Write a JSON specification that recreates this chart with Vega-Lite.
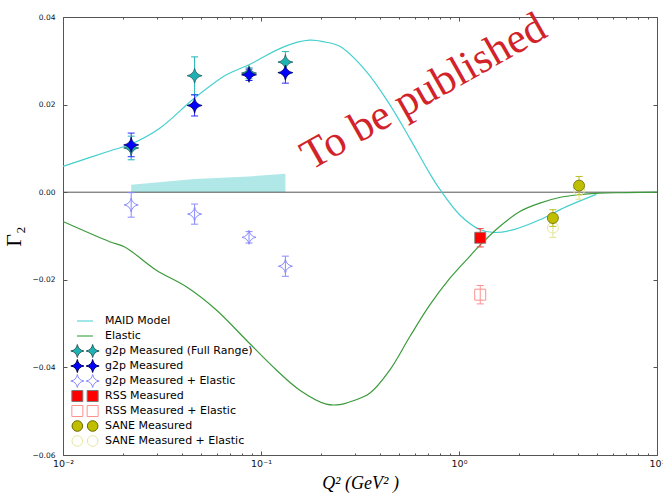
{
  "$schema": "https://vega.github.io/schema/vega-lite/v6.json",
  "autosize": {"type": "none"},
  "padding": {"left": 63, "top": 17, "right": 6, "bottom": 42},
  "width": 594,
  "height": 438,
  "background": "white",
  "config": {
    "view": {"stroke": null},
    "axis": {
      "grid": false,
      "domainColor": "#555555",
      "tickColor": "#555555",
      "labelColor": "#111111",
      "labelFont": "DejaVu Sans",
      "labelFontSize": 7.5,
      "titleColor": "black"
    },
    "legend": {
      "orient": "none", "legendX": 7, "legendY": 296.5, "title": null,
      "labelFont": "DejaVu Sans", "labelFontSize": 11, "labelColor": "black", "labelLimit": 400,
      "symbolSize": 841, "symbolStrokeWidth": 1, "symbolOpacity": 1,
      "rowPadding": 0, "clipHeight": 15, "labelOffset": 5, "padding": 0
    }
  },
  "datasets": {
    "maid": [
      {"q2": 0.01, "g": 0.0059},
      {"q2": 0.0172, "g": 0.0094},
      {"q2": 0.0221, "g": 0.0110},
      {"q2": 0.0308, "g": 0.0146},
      {"q2": 0.0462, "g": 0.0215},
      {"q2": 0.0669, "g": 0.0268},
      {"q2": 0.0869, "g": 0.0291},
      {"q2": 0.132, "g": 0.0333},
      {"q2": 0.176, "g": 0.0347},
      {"q2": 0.21, "g": 0.0343},
      {"q2": 0.25, "g": 0.0333},
      {"q2": 0.34, "g": 0.0276},
      {"q2": 0.447, "g": 0.0200},
      {"q2": 0.564, "g": 0.0123},
      {"q2": 0.711, "g": 0.0043},
      {"q2": 0.799, "g": 0.0007},
      {"q2": 1.01, "g": -0.0052},
      {"q2": 1.27, "g": -0.0085},
      {"q2": 1.51, "g": -0.0092},
      {"q2": 1.87, "g": -0.0086},
      {"q2": 2.56, "g": -0.0063},
      {"q2": 3.49, "g": -0.0033},
      {"q2": 4.94, "g": -0.0005}
    ],
    "elastic": [
      {"q2": 0.01, "g": -0.0067},
      {"q2": 0.0172, "g": -0.0113},
      {"q2": 0.0205, "g": -0.0125},
      {"q2": 0.0296, "g": -0.0178},
      {"q2": 0.042, "g": -0.0216},
      {"q2": 0.0595, "g": -0.0269},
      {"q2": 0.0844, "g": -0.0338},
      {"q2": 0.1196, "g": -0.0406},
      {"q2": 0.157, "g": -0.0452},
      {"q2": 0.214, "g": -0.0484},
      {"q2": 0.25, "g": -0.0485},
      {"q2": 0.28, "g": -0.0479},
      {"q2": 0.354, "g": -0.0459},
      {"q2": 0.447, "g": -0.0406},
      {"q2": 0.564, "g": -0.0330},
      {"q2": 0.711, "g": -0.0258},
      {"q2": 0.898, "g": -0.0197},
      {"q2": 1.13, "g": -0.0147},
      {"q2": 1.27, "g": -0.0122},
      {"q2": 1.6, "g": -0.0079},
      {"q2": 2.03, "g": -0.0044},
      {"q2": 2.56, "g": -0.0025},
      {"q2": 3.3, "g": -0.0011},
      {"q2": 4.2, "g": -0.0005},
      {"q2": 5.1, "g": -0.0002},
      {"q2": 7.0, "g": -0.0001},
      {"q2": 10, "g": 0.0}
    ],
    "band": [
      {"q2": 0.0221, "top": 0.0017},
      {"q2": 0.0462, "top": 0.0030},
      {"q2": 0.0870, "top": 0.0036},
      {"q2": 0.1328, "top": 0.0042}
    ],
    "pts": [
      {"series": "g2p Measured (Full Range)", "q2": 0.0221, "g": 0.0101, "lo": 0.0074, "hi": 0.0128},
      {"series": "g2p Measured (Full Range)", "q2": 0.0462, "g": 0.0266, "lo": 0.0223, "hi": 0.0309},
      {"series": "g2p Measured (Full Range)", "q2": 0.0870, "g": 0.0272, "lo": 0.0259, "hi": 0.0284},
      {"series": "g2p Measured (Full Range)", "q2": 0.1328, "g": 0.0297, "lo": 0.0273, "hi": 0.0321},
      {"series": "g2p Measured", "q2": 0.0221, "g": 0.0108, "lo": 0.0081, "hi": 0.0135},
      {"series": "g2p Measured", "q2": 0.0462, "g": 0.0198, "lo": 0.0174, "hi": 0.0222},
      {"series": "g2p Measured", "q2": 0.0870, "g": 0.0268, "lo": 0.0255, "hi": 0.0281},
      {"series": "g2p Measured", "q2": 0.1328, "g": 0.0273, "lo": 0.0249, "hi": 0.0297},
      {"series": "g2p Measured + Elastic", "q2": 0.0221, "g": -0.0029, "lo": -0.0057, "hi": -0.0001},
      {"series": "g2p Measured + Elastic", "q2": 0.0462, "g": -0.0050, "lo": -0.0073, "hi": -0.0027},
      {"series": "g2p Measured + Elastic", "q2": 0.0870, "g": -0.0103, "lo": -0.0116, "hi": -0.0090},
      {"series": "g2p Measured + Elastic", "q2": 0.1328, "g": -0.0169, "lo": -0.0192, "hi": -0.0146},
      {"series": "RSS Measured", "q2": 1.28, "g": -0.0104, "lo": -0.0125, "hi": -0.0083},
      {"series": "RSS Measured + Elastic", "q2": 1.28, "g": -0.0234, "lo": -0.0255, "hi": -0.0213},
      {"series": "SANE Measured + Elastic", "q2": 2.98, "g": -0.0081, "lo": -0.0103, "hi": -0.0059},
      {"series": "SANE Measured + Elastic", "q2": 4.04, "g": 0.0005, "lo": -0.0016, "hi": 0.0026},
      {"series": "SANE Measured", "q2": 2.98, "g": -0.0059, "lo": -0.0078, "hi": -0.0040},
      {"series": "SANE Measured", "q2": 4.04, "g": 0.0015, "lo": -0.0006, "hi": 0.0036}
    ],
    "legendEntries": [
      {"series": "MAID Model"},
      {"series": "Elastic"},
      {"series": "g2p Measured (Full Range)"},
      {"series": "g2p Measured"},
      {"series": "g2p Measured + Elastic"},
      {"series": "RSS Measured"},
      {"series": "RSS Measured + Elastic"},
      {"series": "SANE Measured"},
      {"series": "SANE Measured + Elastic"}
    ]
  },
  "layer": [
    {
      "data": {"name": "band"},
      "mark": {"type": "area", "color": "#b0e8e8", "opacity": 1},
      "encoding": {
        "x": {
          "field": "q2", "type": "quantitative",
          "scale": {"type": "log", "domain": [0.01, 10], "nice": false},
          "axis": {"orient": "bottom", "values": [0.02, 0.03, 0.04, 0.05, 0.06, 0.07, 0.08, 0.09, 0.2, 0.3, 0.4, 0.5, 0.6, 0.7, 0.8, 0.9, 2, 3, 4, 5, 6, 7, 8, 9], "labels": false, "domain": false, "tickSize": -2, "title": null}
        },
        "y": {
          "field": "top", "type": "quantitative",
          "scale": {"domain": [-0.06, 0.04], "nice": false, "zero": false},
          "axis": null
        },
        "y2": {"datum": 0}
      }
    },
    {
      "data": {"values": [{"g": 0}]},
      "mark": {"type": "rule", "color": "#555555", "strokeWidth": 1},
      "encoding": {"y": {"field": "g", "type": "quantitative", "axis": null}}
    },
    {
      "data": {"name": "maid"},
      "mark": {"type": "line", "color": "#45cfcf", "strokeWidth": 1.2, "interpolate": "catmull-rom"},
      "encoding": {
        "x": {
          "field": "q2", "type": "quantitative",
          "axis": {
            "orient": "bottom", "values": [0.01, 0.1, 1, 10],
            "labelExpr": "datum.value < 0.05 ? '10⁻²' : datum.value < 0.5 ? '10⁻¹' : datum.value < 5 ? '10⁰' : '10¹'",
            "labelFontSize": 9.5,
            "tickSize": -4, "labelPadding": 7, "labelFlush": false, "labelOverlap": false, "labelBound": false,
            "title": "Q² (GeV² )", "titleFont": "Liberation Serif", "titleFontStyle": "italic",
            "titleFontWeight": "normal", "titleFontSize": 18, "titlePadding": 7
          }
        },
        "y": {
          "field": "g", "type": "quantitative",
          "axis": {
            "orient": "left", "values": [-0.06, -0.04, -0.02, 0, 0.02, 0.04],
            "labelExpr": "replace(format(datum.value, '.2f'), '-', '−')",
            "tickSize": -4, "labelPadding": 12, "labelFlush": false, "labelOverlap": false,
            "title": "Γ₂", "titleFont": "Liberation Serif", "titleFontSize": 22,
            "titleFontWeight": "normal", "titlePadding": 7
          }
        }
      }
    },
    {
      "data": {"name": "elastic"},
      "mark": {"type": "line", "color": "#3b9b3b", "strokeWidth": 1.2, "interpolate": "catmull-rom"},
      "encoding": {
        "x": {
          "field": "q2", "type": "quantitative",
          "axis": {"orient": "top", "values": [0.01, 0.1, 1, 10], "labels": false, "tickSize": -4, "title": null}
        },
        "y": {
          "field": "g", "type": "quantitative",
          "axis": {"orient": "right", "values": [-0.06, -0.04, -0.02, 0, 0.02, 0.04], "labels": false, "tickSize": -4, "title": null}
        }
      }
    },
    {
      "data": {"name": "pts"},
      "mark": {"type": "rule", "strokeWidth": 1, "opacity": 1},
      "encoding": {
        "x": {
          "field": "q2", "type": "quantitative",
          "axis": {"orient": "top", "values": [0.02, 0.03, 0.04, 0.05, 0.06, 0.07, 0.08, 0.09, 0.2, 0.3, 0.4, 0.5, 0.6, 0.7, 0.8, 0.9, 2, 3, 4, 5, 6, 7, 8, 9], "labels": false, "domain": false, "tickSize": -2, "title": null}
        },
        "y": {"field": "lo", "type": "quantitative", "axis": null},
        "y2": {"field": "hi"},
        "color": {
          "field": "series", "type": "nominal", "legend": null,
          "scale": {
            "domain": ["g2p Measured (Full Range)", "g2p Measured", "g2p Measured + Elastic", "RSS Measured", "RSS Measured + Elastic", "SANE Measured", "SANE Measured + Elastic"],
            "range": ["#22b4b4", "#2a2aff", "#8a8aff", "#f04a4a", "#ff8f8f", "#bdbd20", "#e3e38f"]
          }
        }
      }
    },
    {
      "data": {"name": "pts"},
      "mark": {"type": "tick", "orient": "horizontal", "size": 7, "thickness": 1, "opacity": 1},
      "encoding": {
        "x": {"field": "q2", "type": "quantitative", "axis": null},
        "y": {"field": "lo", "type": "quantitative", "axis": null},
        "color": {"field": "series", "type": "nominal", "legend": null}
      }
    },
    {
      "data": {"name": "pts"},
      "mark": {"type": "tick", "orient": "horizontal", "size": 7, "thickness": 1, "opacity": 1},
      "encoding": {
        "x": {"field": "q2", "type": "quantitative", "axis": null},
        "y": {"field": "hi", "type": "quantitative", "axis": null},
        "color": {"field": "series", "type": "nominal", "legend": null}
      }
    },
    {
      "data": {"name": "pts"},
      "transform": [{"filter": "datum.series === 'g2p Measured (Full Range)'"}],
      "mark": {"type": "point", "shape": "M0,-1Q0.15,-0.15 1,0Q0.15,0.15 0,1Q-0.15,0.15 -1,0Q-0.15,-0.15 0,-1Z", "size": 225, "filled": true, "fill": "#1fb2b2", "stroke": "#2b5f5f", "strokeWidth": 0.8, "opacity": 1},
      "encoding": {
        "x": {"field": "q2", "type": "quantitative", "axis": null},
        "y": {"field": "g", "type": "quantitative", "axis": null}
      }
    },
    {
      "data": {"name": "pts"},
      "transform": [{"filter": "datum.series === 'g2p Measured'"}],
      "mark": {"type": "point", "shape": "M0,-1Q0.15,-0.15 1,0Q0.15,0.15 0,1Q-0.15,0.15 -1,0Q-0.15,-0.15 0,-1Z", "size": 225, "filled": true, "fill": "#0000ff", "stroke": "#00005a", "strokeWidth": 0.8, "opacity": 1},
      "encoding": {
        "x": {"field": "q2", "type": "quantitative", "axis": null},
        "y": {"field": "g", "type": "quantitative", "axis": null}
      }
    },
    {
      "data": {"name": "pts"},
      "transform": [{"filter": "datum.series === 'g2p Measured + Elastic'"}],
      "mark": {"type": "point", "shape": "M0,-1Q0.15,-0.15 1,0Q0.15,0.15 0,1Q-0.15,0.15 -1,0Q-0.15,-0.15 0,-1Z", "size": 196, "filled": false, "stroke": "#8a8aff", "strokeWidth": 1, "opacity": 1},
      "encoding": {
        "x": {"field": "q2", "type": "quantitative", "axis": null},
        "y": {"field": "g", "type": "quantitative", "axis": null}
      }
    },
    {
      "data": {"name": "pts"},
      "transform": [{"filter": "datum.series === 'RSS Measured'"}],
      "mark": {"type": "point", "shape": "square", "size": 121, "filled": true, "fill": "#ff0000", "stroke": "#7a7a7a", "strokeWidth": 0.8, "opacity": 1},
      "encoding": {
        "x": {"field": "q2", "type": "quantitative", "axis": null},
        "y": {"field": "g", "type": "quantitative", "axis": null}
      }
    },
    {
      "data": {"name": "pts"},
      "transform": [{"filter": "datum.series === 'RSS Measured + Elastic'"}],
      "mark": {"type": "point", "shape": "square", "size": 121, "filled": false, "stroke": "#ff9090", "strokeWidth": 1, "opacity": 1},
      "encoding": {
        "x": {"field": "q2", "type": "quantitative", "axis": null},
        "y": {"field": "g", "type": "quantitative", "axis": null}
      }
    },
    {
      "data": {"name": "pts"},
      "transform": [{"filter": "datum.series === 'SANE Measured + Elastic'"}],
      "mark": {"type": "point", "shape": "circle", "size": 121, "filled": false, "stroke": "#e6e6a0", "strokeWidth": 1, "opacity": 1},
      "encoding": {
        "x": {"field": "q2", "type": "quantitative", "axis": null},
        "y": {"field": "g", "type": "quantitative", "axis": null}
      }
    },
    {
      "data": {"name": "pts"},
      "transform": [{"filter": "datum.series === 'SANE Measured'"}],
      "mark": {"type": "point", "shape": "circle", "size": 121, "filled": true, "fill": "#bfbf00", "stroke": "#6a6a00", "strokeWidth": 0.8, "opacity": 1},
      "encoding": {
        "x": {"field": "q2", "type": "quantitative", "axis": null},
        "y": {"field": "g", "type": "quantitative", "axis": null}
      }
    },
    {
      "data": {"name": "legendEntries"},
      "transform": [{"filter": "false"}],
      "mark": {"type": "point", "filled": true, "opacity": 1},
      "encoding": {
        "shape": {
          "field": "series", "type": "nominal",
          "scale": {
            "domain": ["MAID Model", "Elastic", "g2p Measured (Full Range)", "g2p Measured", "g2p Measured + Elastic", "RSS Measured", "RSS Measured + Elastic", "SANE Measured", "SANE Measured + Elastic"],
            "range": [
              "M-0.55,-0.07H0.55V0.07H-0.55Z",
              "M-0.55,-0.07H0.55V0.07H-0.55Z",
              "M-0.528,-0.448Q-0.461,-0.067 -0.08,0Q-0.461,0.067 -0.528,0.448Q-0.595,0.067 -0.976,0Q-0.595,-0.067 -0.528,-0.448ZM0.528,-0.448Q0.595,-0.067 0.976,0Q0.595,0.067 0.528,0.448Q0.461,0.067 0.08,0Q0.461,-0.067 0.528,-0.448Z",
              "M-0.528,-0.448Q-0.461,-0.067 -0.08,0Q-0.461,0.067 -0.528,0.448Q-0.595,0.067 -0.976,0Q-0.595,-0.067 -0.528,-0.448ZM0.528,-0.448Q0.595,-0.067 0.976,0Q0.595,0.067 0.528,0.448Q0.461,0.067 0.08,0Q0.461,-0.067 0.528,-0.448Z",
              "M-0.528,-0.448Q-0.461,-0.067 -0.08,0Q-0.461,0.067 -0.528,0.448Q-0.595,0.067 -0.976,0Q-0.595,-0.067 -0.528,-0.448ZM0.528,-0.448Q0.595,-0.067 0.976,0Q0.595,0.067 0.528,0.448Q0.461,0.067 0.08,0Q0.461,-0.067 0.528,-0.448Z",
              "M-0.907,-0.379H-0.149V0.379H-0.907ZM0.149,-0.379H0.907V0.379H0.149Z",
              "M-0.907,-0.379H-0.149V0.379H-0.907ZM0.149,-0.379H0.907V0.379H0.149Z",
              "M-0.162,0A0.366,0.366 0 1 1 -0.894,0A0.366,0.366 0 1 1 -0.162,0ZM0.894,0A0.366,0.366 0 1 1 0.162,0A0.366,0.366 0 1 1 0.894,0Z",
              "M-0.162,0A0.366,0.366 0 1 1 -0.894,0A0.366,0.366 0 1 1 -0.162,0ZM0.894,0A0.366,0.366 0 1 1 0.162,0A0.366,0.366 0 1 1 0.894,0Z"
            ]
          }
        },
        "fill": {
          "field": "series", "type": "nominal",
          "scale": {
            "domain": ["MAID Model", "Elastic", "g2p Measured (Full Range)", "g2p Measured", "g2p Measured + Elastic", "RSS Measured", "RSS Measured + Elastic", "SANE Measured", "SANE Measured + Elastic"],
            "range": ["#a2e7e7", "#93c993", "#1fb2b2", "#0000ff", "transparent", "#ff0000", "transparent", "#bfbf00", "transparent"]
          }
        },
        "stroke": {
          "field": "series", "type": "nominal",
          "scale": {
            "domain": ["MAID Model", "Elastic", "g2p Measured (Full Range)", "g2p Measured", "g2p Measured + Elastic", "RSS Measured", "RSS Measured + Elastic", "SANE Measured", "SANE Measured + Elastic"],
            "range": ["transparent", "transparent", "#2b5f5f", "#00005a", "#8a8aff", "#7a7a7a", "#ff9090", "#6a6a00", "#e6e6a0"]
          }
        }
      }
    },
    {
      "data": {"values": [{"label": "To be published", "q2": 0.663, "g": 0.0229}]},
      "mark": {"type": "text", "angle": 330.5, "font": "Liberation Serif", "fontSize": 43, "color": "#d2232a", "align": "center", "baseline": "middle"},
      "encoding": {
        "x": {"field": "q2", "type": "quantitative", "axis": null},
        "y": {"field": "g", "type": "quantitative", "axis": null},
        "text": {"field": "label"}
      }
    }
  ]
}
